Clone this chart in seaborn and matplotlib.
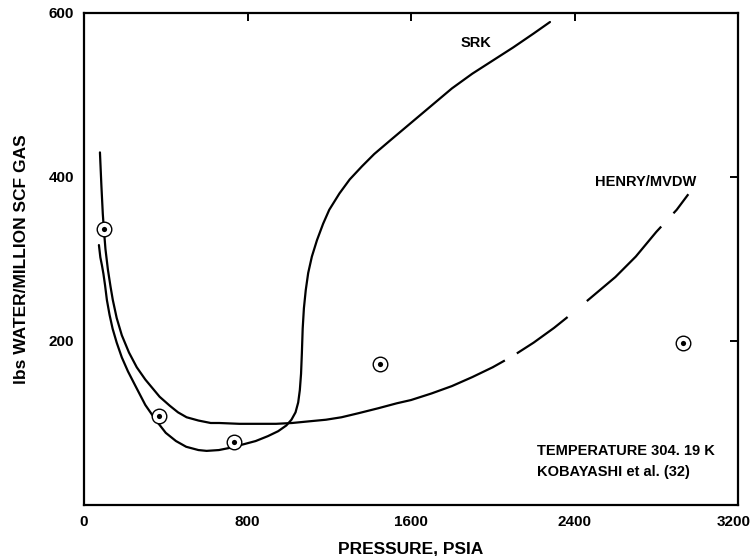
import matplotlib
matplotlib.use("Agg")
import matplotlib.pyplot as plt
import matplotlib.transforms as mtransforms
import seaborn as sns
import pandas as pd

# ---- data ----
srk_x = [73, 80, 88, 95, 103, 112, 125, 140, 160, 185, 215, 250, 300, 350, 400,
         450, 500, 560, 600, 660, 720, 780, 840, 900, 950, 990, 1015, 1035, 1048,
         1056, 1062, 1066, 1070, 1076, 1085, 1097, 1115, 1140, 1170, 1200, 1250,
         1300, 1360, 1420, 1500, 1600, 1700, 1800, 1900, 2000, 2100, 2200, 2280]
srk_y = [317, 302, 292, 282, 268, 250, 232, 215, 198, 180, 163, 146, 122, 104, 88,
         78, 71, 67, 66, 67, 70, 74, 78, 84, 90, 97, 104, 113, 125,
         140, 160, 185, 215, 240, 262, 283, 303, 323, 343, 360, 380,
         397, 413, 428, 445, 466, 487, 508, 526, 542, 558, 575, 589]

henry_x = [78, 85, 92, 97, 105, 117, 130, 141, 160, 185, 220, 258, 300, 340, 370,
           420, 460, 502, 560, 620, 662, 760, 857, 940, 1018, 1100, 1184, 1260,
           1344, 1440, 1530, 1600, 1700, 1800, 1900, 2000, 2100, 2200, 2300,
           2400, 2500, 2600, 2700, 2800, 2900, 2957]
henry_y = [430, 390, 355, 337, 312, 287, 266, 250, 228, 207, 186, 168, 153, 141, 132,
           121, 113, 107, 103, 100, 100, 99, 99, 99, 100, 102, 104, 107,
           112, 118, 124, 128, 136, 145, 156, 168, 182, 198, 216,
           236, 257, 278, 303, 333, 360, 379]

exp_x = [97, 365, 735, 1450, 2932]
exp_y = [337, 108, 77, 172, 198]

x_ticks = [0, 800, 1600, 2400, 3200]
y_ticks = [200, 400, 600]

sns.set_theme(style="white")
plt.rcParams["font.family"] = ["Liberation Sans", "DejaVu Sans"]
plt.rcParams["font.weight"] = "bold"
plt.rcParams["lines.scale_dashes"] = False
for k in ["text.color", "axes.labelcolor", "xtick.color", "ytick.color", "axes.edgecolor"]:
    plt.rcParams[k] = "black"

fig = plt.figure(figsize=(7.52, 5.56), dpi=100)
ax = fig.add_axes([84 / 752, 51 / 556, 654 / 752, 492 / 556])

srk = pd.DataFrame({"x": srk_x, "y": srk_y})
henry = pd.DataFrame({"x": henry_x, "y": henry_y})
exp = pd.DataFrame({"x": exp_x, "y": exp_y})

lw = 1.6
sns.lineplot(data=srk, x="x", y="y", sort=False, estimator=None, color="black",
             linewidth=lw, ax=ax)
solid = henry[henry["x"] <= 2000]
tail = henry[henry["x"] >= 2000]
sns.lineplot(data=solid, x="x", y="y", sort=False, estimator=None, color="black",
             linewidth=lw, ax=ax)
ln = sns.lineplot(data=tail, x="x", y="y", sort=False, estimator=None, color="black",
                  linewidth=lw, ax=ax).lines[-1]
ln.set_linestyle((0, (10, 10, 45, 18, 76, 13, 60, 10)))

sns.scatterplot(data=exp, x="x", y="y", s=110, facecolor="white", edgecolor="black",
                linewidth=1.0, zorder=5, ax=ax)
sns.scatterplot(data=exp, x="x", y="y", s=14, color="black", edgecolor="black",
                linewidth=0, zorder=6, ax=ax)

ax.set_xlim(0, 3200)
ax.set_ylim(0, 600)
ax.set_xticks(x_ticks)
ax.set_yticks(y_ticks)
ax.set_xticklabels([str(v) for v in x_ticks], fontsize=11, fontweight="bold")
ax.set_yticklabels([str(v) for v in y_ticks], fontsize=11, fontweight="bold")
ax.tick_params(direction="in", length=6, width=1.4, top=True, right=True,
               labeltop=False, labelright=False, colors="black", pad=7)
last = ax.get_xticklabels()[-1]
last.set_transform(last.get_transform() +
                   mtransforms.ScaledTranslation(-4 / 100, 0, fig.dpi_scale_trans))
for sp in ax.spines.values():
    sp.set_visible(True)
    sp.set_linewidth(1.6)
    sp.set_color("black")

ax.set_xlabel("PRESSURE, PSIA", fontsize=12.5, fontweight="bold", labelpad=9)
ax.set_ylabel("lbs WATER/MILLION SCF GAS", fontsize=12.5, fontweight="bold", labelpad=14)

ax.text(1919, 563, "SRK", ha="center", va="center", fontsize=10.5, fontweight="bold")
ax.text(2747, 394, "HENRY/MVDW", ha="center", va="center", fontsize=10.5, fontweight="bold")
ax.text(2216, 66, "TEMPERATURE 304. 19 K", ha="left", va="center", fontsize=10.5,
        fontweight="bold")
ax.text(2216, 40, "KOBAYASHI et al. (32)", ha="left", va="center", fontsize=10.5,
        fontweight="bold")

fig.savefig("out.png", dpi=100)
